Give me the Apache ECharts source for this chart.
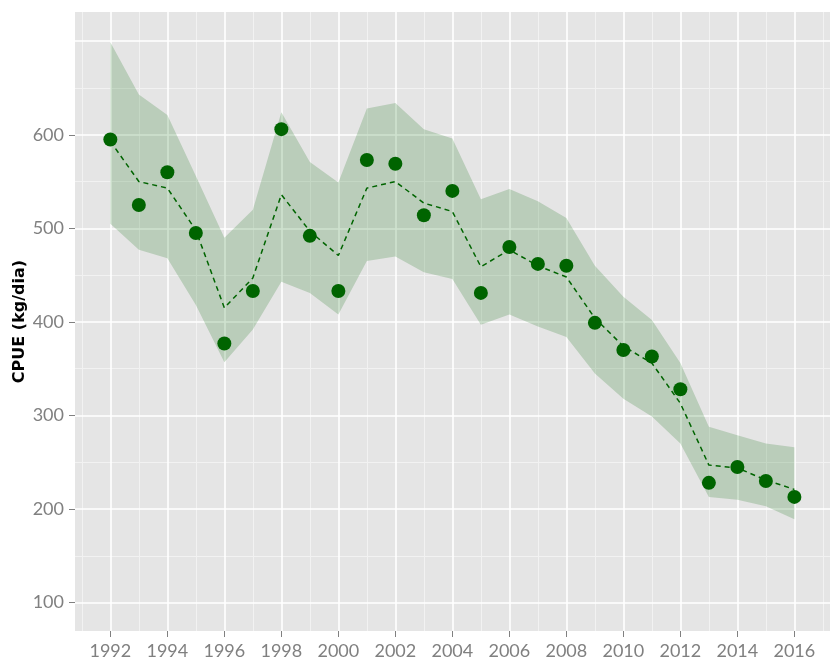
<!DOCTYPE html>
<html>
<head>
<meta charset="utf-8">
<script src="https://cdn.jsdelivr.net/npm/echarts@6/dist/echarts.min.js"></script>
<style>
  html, body { margin: 0; padding: 0; background: #fff; }
  #chart { width: 830px; height: 661px; }
</style>
</head>
<body>
<div id="chart"></div>
<script>
var years = [1992, 1993, 1994, 1995, 1996, 1997, 1998, 1999, 2000, 2001, 2002, 2003, 2004,
             2005, 2006, 2007, 2008, 2009, 2010, 2011, 2012, 2013, 2014, 2015, 2016];
// observed CPUE (dots)
var cpue  = [595, 525, 560, 495, 377, 433, 606, 492, 433, 573, 569, 514, 540,
             431, 480, 462, 460, 399, 370, 363, 328, 228, 245, 230, 213];
// model estimate (dashed line)
var trend = [593, 550, 543, 498, 415, 447, 536, 497, 471, 543, 550, 527, 518,
             459, 477, 460, 448, 404, 374, 356, 313, 247, 244, 231, 221];
// confidence band
var upper = [699, 643, 621, 556, 490, 520, 624, 571, 549, 628, 634, 606, 596,
             531, 542, 529, 511, 460, 427, 402, 356, 288, 279, 270, 266];
var lower = [505, 477, 468, 418, 357, 392, 443, 431, 408, 465, 470, 453, 446,
             397, 408, 395, 384, 345, 318, 299, 270, 213, 210, 203, 189];

var xTicks = [1992, 1994, 1996, 1998, 2000, 2002, 2004, 2006, 2008, 2010, 2012, 2014, 2016];
var xMinor = [1991, 1993, 1995, 1997, 1999, 2001, 2003, 2005, 2007, 2009, 2011, 2013, 2015, 2017];
var yTicks = [100, 200, 300, 400, 500, 600, 700];
var yMinor = [150, 250, 350, 450, 550, 650];
var yLabels = [100, 200, 300, 400, 500, 600];

function pairs(vals) {
    return years.map(function (y, i) { return [y, vals[i]]; });
}

var chart = echarts.init(document.getElementById('chart'));

var minorLines = xMinor.map(function (x) { return { xAxis: x }; })
    .concat(yMinor.map(function (y) { return { yAxis: y }; }));
var majorLines = xTicks.map(function (x) { return { xAxis: x }; })
    .concat(yTicks.map(function (y) { return { yAxis: y }; }));

var option = {
    animation: false,
    grid: {
        left: 75,
        right: -12,
        top: 12,
        bottom: 30,
        show: true,
        backgroundColor: '#e5e5e5',
        borderWidth: 0
    },
    xAxis: {
        type: 'value',
        min: 1990.76,
        max: 2017.25,
        splitLine: { show: false },
        axisLine: { show: false },
        axisTick: {
            show: true,
            customValues: xTicks,
            length: 6,
            lineStyle: { color: '#808080', width: 1 }
        },
        axisLabel: {
            customValues: xTicks,
            formatter: function (v) { return String(v); },
            color: '#808080',
            fontFamily: 'Lato',
            fontSize: 18,
            margin: 11
        }
    },
    yAxis: {
        type: 'value',
        min: 69.7,
        max: 731.2,
        name: 'CPUE (kg/dia)',
        nameLocation: 'middle',
        nameGap: 47,
        nameMoveOverlap: false,
        nameTextStyle: {
            color: '#000',
            fontFamily: 'DejaVu Sans',
            fontWeight: 'bold',
            fontSize: 16
        },
        splitLine: { show: false },
        axisLine: { show: false },
        axisTick: {
            show: true,
            customValues: yLabels,
            length: 6,
            lineStyle: { color: '#808080', width: 1 }
        },
        axisLabel: {
            customValues: yLabels,
            color: '#808080',
            fontFamily: 'Lato',
            fontSize: 18,
            margin: 11
        }
    },
    series: [
        {
            // minor grid
            type: 'line',
            data: [],
            z: 1,
            markLine: {
                silent: true,
                z: 0,
                symbol: ['none', 'none'],
                label: { show: false },
                lineStyle: { color: '#f2f2f2', width: 1, type: 'solid' },
                data: minorLines
            }
        },
        {
            // major grid
            type: 'line',
            data: [],
            z: 1,
            markLine: {
                silent: true,
                z: 1,
                symbol: ['none', 'none'],
                label: { show: false },
                lineStyle: { color: '#ffffff', width: 1.6, type: 'solid' },
                data: majorLines
            }
        },
        {
            // confidence band between lower and upper
            name: 'band',
            type: 'custom',
            data: [0],
            silent: true,
            z: 2,
            renderItem: function (params, api) {
                var pts = [];
                for (var i = 0; i < years.length; i++) {
                    pts.push(api.coord([years[i], upper[i]]));
                }
                for (var j = years.length - 1; j >= 0; j--) {
                    pts.push(api.coord([years[j], lower[j]]));
                }
                return {
                    type: 'polygon',
                    shape: { points: pts },
                    style: { fill: 'rgba(0,100,0,0.19)' }
                };
            }
        },
        {
            name: 'trend',
            type: 'line',
            data: pairs(trend),
            symbol: 'none',
            lineStyle: { color: '#006400', width: 1.5, type: [5, 4] },
            z: 3
        },
        {
            name: 'CPUE',
            type: 'scatter',
            data: pairs(cpue),
            symbol: 'circle',
            symbolSize: 14,
            itemStyle: { color: '#006400', opacity: 1 },
            z: 4
        }
    ]
};
chart.setOption(option);
</script>
</body>
</html>
